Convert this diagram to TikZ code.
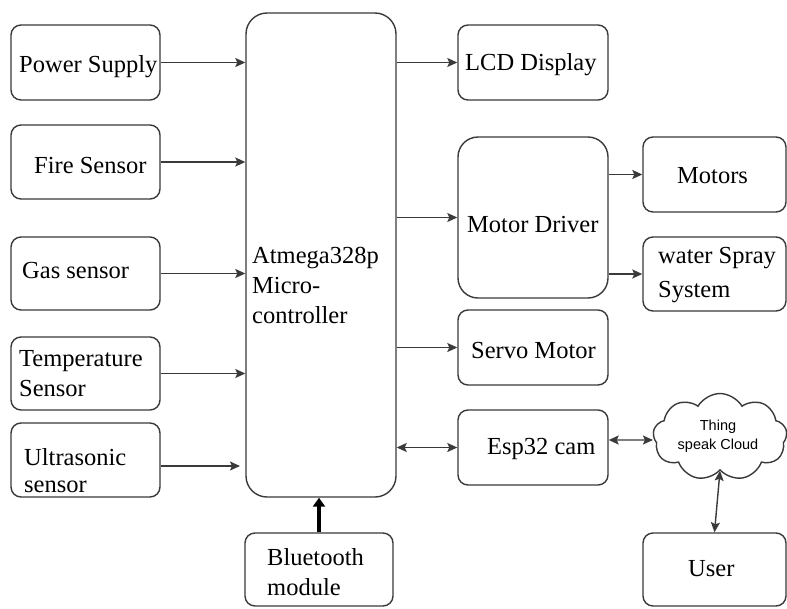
\documentclass[tikz,border=0pt]{standalone}
\usepackage{fontspec}
\setmainfont{Liberation Serif}
\newfontfamily\cloudfont{Liberation Sans}
\usetikzlibrary{shapes.symbols,arrows.meta}
\definecolor{linec}{HTML}{3A3A3A}
\begin{document}
\begin{tikzpicture}[x=1pt,y=-1pt,
  box/.style={draw=linec, line width=1.4pt, rounded corners=10pt, inner sep=0pt},
  bigbox/.style={box, rounded corners=21pt},
  txt/.style={font=\fontsize{24.5}{30}\selectfont, inner sep=0pt, anchor=base west, align=left},
  tip/.tip={Stealth[length=10pt,width=9pt,inset=2pt]},
  arr/.style={draw=linec, line width=1.4pt, -tip},
  darr/.style={draw=linec, line width=1.4pt, tip-tip}]
\useasboundingbox (0,0) rectangle (787,608);
\fill[white] (0,0) rectangle (787,608);

% boxes
\node[box, minimum width=149, minimum height=75] (ps) at (85.5,62.5) {};
\node[box, minimum width=149, minimum height=74] (fire) at (85.5,162) {};
\node[box, minimum width=149, minimum height=73] (gas) at (85.5,273.5) {};
\node[box, minimum width=149, minimum height=73] (temp) at (85.5,373.5) {};
\node[box, minimum width=149, minimum height=74] (ultra) at (85.5,460) {};
\node[bigbox, minimum width=150, minimum height=484] (mcu) at (321,255) {};
\node[box, minimum width=148, minimum height=73] (bt) at (319,569.5) {};
\node[box, minimum width=150, minimum height=75] (lcd) at (533,62.5) {};
\node[bigbox, rounded corners=20pt, minimum width=150, minimum height=161] (md) at (533,217.5) {};
\node[box, minimum width=143, minimum height=75] (motors) at (714.5,174.5) {};
\node[box, minimum width=143, minimum height=74] (water) at (714.5,274) {};
\node[box, minimum width=150, minimum height=75] (servo) at (533,347.5) {};
\node[box, minimum width=150, minimum height=75] (esp) at (533,447.5) {};
\node[box, minimum width=143, minimum height=73] (user) at (714.5,569.5) {};
\node[cloud, draw=linec, line width=1.4pt, cloud puffs=9, cloud puff arc=120, cloud ignores aspect,
      minimum width=134, minimum height=87, inner sep=0pt] (cloud) at (720,437) {};

% texts (anchor = baseline of last line)
\node[txt] (tps) at (19,72) {Power Supply};
\node[txt] (tfire) at (34,173) {Fire Sensor};
\node[txt] (tgas) at (22,278) {Gas sensor};
\node[txt] (ttemp) at (19,396) {Temperature\\Sensor};
\node[txt] (tultra) at (24,492) {Ultrasonic\\[-3pt]sensor};
\node[txt] (tmcu) at (252,323) {Atmega328p\\Micro-\\controller};
\node[txt] (tbt) at (267,595) {Bluetooth\\module};
\node[txt] (tlcd) at (465,70) {LCD Display};
\node[txt] (tmd) at (467,232) {Motor Driver};
\node[txt] (tmotors) at (677,183) {Motors};
\node[txt] (twater) at (658,297) {water Spray\\[4pt]System};
\node[txt] (tservo) at (471,358) {Servo Motor};
\node[txt] (tesp) at (487,454) {Esp32 cam};
\node[txt] (tuser) at (688,576) {User};
\node[font=\cloudfont\fontsize{14.5}{19}\selectfont, align=center, inner sep=0pt] (tcloud) at (718,436) {Thing\\speak Cloud};

% connectors
\draw[arr] (ps.east) -- (ps.east -| mcu.west);
\draw[arr] (fire.east) -- (fire.east -| mcu.west);
\draw[arr] (gas.east) -- (gas.east -| mcu.west);
\draw[arr] (temp.east) -- (temp.east -| mcu.west);
\coordinate (uend) at (240,466);
\draw[arr] (ultra.east |- uend) -- (uend);
\draw[arr] (lcd.west -| mcu.east) -- (lcd.west);
\draw[arr] (md.west -| mcu.east) -- (md.west);
\draw[arr] (servo.west -| mcu.east) -- (servo.west);
\draw[darr] (esp.west -| mcu.east) -- (esp.west);
\draw[arr] (md.east |- motors.west) -- (motors.west);
\draw[arr] (md.east |- water.west) -- (water.west);
\draw[darr] ([yshift=7.5pt]esp.east) -- ([yshift=-3pt]cloud.west);
\draw[darr] (cloud.south) -- (user.north);
\draw[draw=black, line width=3.5pt, -{Triangle[length=9pt,width=12pt]}] (bt.north) -- (bt.north |- mcu.south);
\end{tikzpicture}
\end{document}
